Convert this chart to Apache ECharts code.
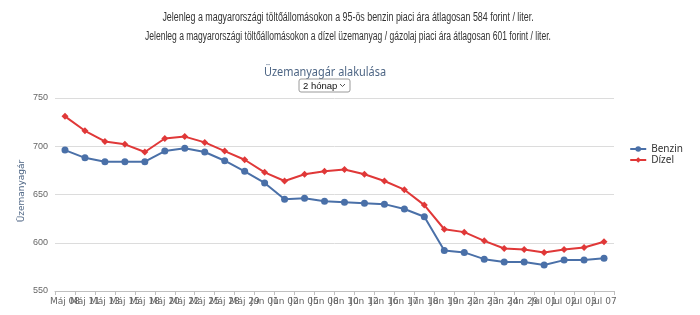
<!DOCTYPE html>
<html>
<head>
<meta charset="utf-8">
<script src="https://cdn.jsdelivr.net/npm/echarts@6/dist/echarts.min.js"></script>
<style>
  html, body { margin: 0; padding: 0; background: #fff; }
  #chart { width: 700px; height: 315px; }
</style>
</head>
<body>
<div id="chart"></div>
<script>
// napok (x tengely)
const days = [
  'Máj 08', 'Máj 11', 'Máj 13', 'Máj 15', 'Máj 18', 'Máj 20', 'Máj 22',
  'Máj 25', 'Máj 28', 'Máj 29', 'Jún 01', 'Jún 02', 'Jún 05', 'Jún 08',
  'Jún 10', 'Jún 12', 'Jún 16', 'Jún 17', 'Jún 18', 'Jún 19', 'Jún 22',
  'Jún 23', 'Jún 24', 'Jún 29', 'Jul 01', 'Jul 02', 'Jul 03', 'Jul 07'
]

// forint / liter
const benzin = [
  696, 688, 684, 684, 684, 695, 698, 694, 685, 674, 662, 645, 646, 643,
  642, 641, 640, 635, 627, 592, 590, 583, 580, 580, 577, 582, 582, 584
]
const dizel = [
  731, 716, 705, 702, 694, 708, 710, 704, 695, 686, 673, 664, 671, 674,
  676, 671, 664, 655, 639, 614, 611, 602, 594, 593, 590, 593, 595, 601
]

const infoLines = [
  'Jelenleg a magyarországi töltőállomásokon a 95-ös benzin piaci ára átlagosan 584 forint / liter.',
  'Jelenleg a magyarországi töltőállomásokon a dízel üzemanyag / gázolaj piaci ára átlagosan 601 forint / liter.'
]

const chart = echarts.init(document.getElementById('chart'))

// keskeny betű helyett vízszintesen összenyomott szöveg
const infoText = (txt, y, sx) => ({
  type: 'text',
  x: 348,
  y: y,
  scaleX: sx,
  style: {
    text: txt,
    align: 'center',
    verticalAlign: 'middle',
    font: '12px "Liberation Sans", Arial, sans-serif',
    fill: '#333'
  }
})

chart.setOption({
  animation: false,
  graphic: [
    infoText(infoLines[0], 18, 0.74),
    infoText(infoLines[1], 37, 0.71),
    {
      type: 'text',
      x: 325,
      y: 72,
      scaleX: 0.84,
      style: {
        text: 'Üzemanyagár alakulása',
        align: 'center',
        verticalAlign: 'middle',
        font: '13px "Noto Sans", sans-serif',
        fill: '#4d6584'
      }
    },
    // y tengely címe
    {
      type: 'text',
      x: 22,
      y: 191,
      rotation: Math.PI / 2,
      style: {
        text: 'Üzemanyagár',
        align: 'center',
        verticalAlign: 'middle',
        font: '9px "DejaVu Sans", sans-serif',
        fill: '#4d6584'
      }
    },
    // "2 hónap" választó
    {
      type: 'group',
      x: 299,
      y: 79,
      children: [
        {
          type: 'rect',
          shape: { x: 0, y: 0, width: 51, height: 13, r: 2 },
          style: { fill: '#fff', stroke: '#9a9a9a', lineWidth: 1 }
        },
        {
          type: 'text',
          x: 4,
          y: 7,
          style: {
            text: '2 hónap',
            verticalAlign: 'middle',
            font: '9.5px "Liberation Sans", Arial, sans-serif',
            fill: '#111'
          }
        },
        {
          type: 'polyline',
          shape: { points: [[41, 5], [43.5, 7.5], [46, 5]] },
          style: { stroke: '#555', lineWidth: 1, fill: null }
        }
      ]
    }
  ],
  legend: {
    orient: 'vertical',
    right: 12,
    top: 139,
    itemWidth: 16,
    itemHeight: 7,
    itemGap: 1,
    textStyle: { fontSize: 10, color: '#333', fontFamily: '"Noto Sans", sans-serif' },
    data: ['Benzin', 'Dízel']
  },
  grid: {
    left: 55,
    right: 86,
    top: 98,
    bottom: 24
  },
  xAxis: {
    type: 'category',
    data: days,
    boundaryGap: true,
    axisLine: { lineStyle: { color: '#c0c0c0' } },
    axisTick: { show: true, length: 4, lineStyle: { color: '#c0c0c0' } },
    axisLabel: {
      interval: 0,
      fontSize: 9,
      color: '#666',
      margin: 6,
      fontFamily: '"DejaVu Sans", sans-serif'
    }
  },
  yAxis: {
    type: 'value',
    min: 550,
    max: 750,
    interval: 50,
    axisLine: { show: false },
    axisTick: { show: false },
    axisLabel: { fontSize: 9, color: '#666', margin: 7 },
    splitLine: { lineStyle: { color: '#dcdcdc' } }
  },
  series: [
    {
      name: 'Benzin',
      type: 'line',
      data: benzin,
      symbol: 'circle',
      symbolSize: 7,
      showAllSymbol: true,
      color: '#4a70a8',
      lineStyle: { width: 2 }
    },
    {
      name: 'Dízel',
      type: 'line',
      data: dizel,
      symbol: 'diamond',
      symbolSize: 7,
      showAllSymbol: true,
      color: '#e03838',
      lineStyle: { width: 2 }
    }
  ]
})
</script>
</body>
</html>
